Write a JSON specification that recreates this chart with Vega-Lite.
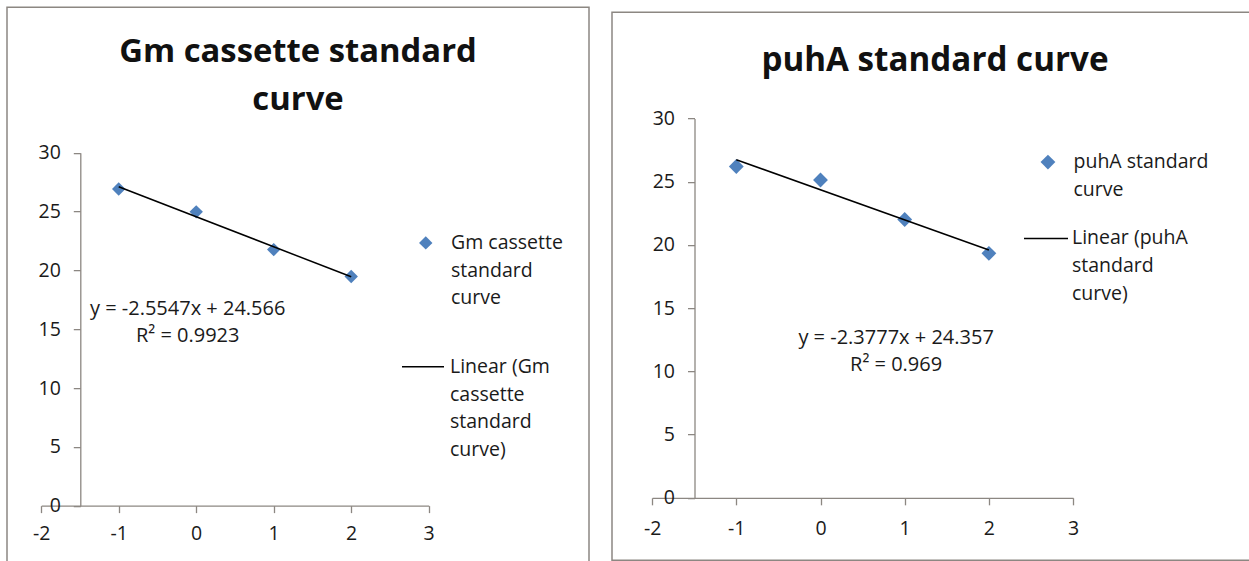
{
  "$schema": "https://vega.github.io/schema/vega-lite/v6.json",
  "padding": {"left": 6, "top": 6, "right": 0, "bottom": 0},
  "background": "white",
  "spacing": 21,
  "center": true,
  "datasets": {
    "gm": [
      {"x": -1, "y": 26.92, "series": "Gm cassette standard curve"},
      {"x": 0, "y": 24.98, "series": "Gm cassette standard curve"},
      {"x": 1, "y": 21.77, "series": "Gm cassette standard curve"},
      {"x": 2, "y": 19.48, "series": "Gm cassette standard curve"}
    ],
    "gmfit": [
      {"x": -1, "y": 27.1207, "series": "Linear (Gm cassette standard curve)"},
      {"x": 2, "y": 19.4566, "series": "Linear (Gm cassette standard curve)"}
    ],
    "puha": [
      {"x": -1, "y": 26.2, "series": "puhA standard curve"},
      {"x": 0, "y": 25.13, "series": "puhA standard curve"},
      {"x": 1, "y": 22.01, "series": "puhA standard curve"},
      {"x": 2, "y": 19.33, "series": "puhA standard curve"}
    ],
    "puhafit": [
      {"x": -1, "y": 26.7347, "series": "Linear (puhA standard curve)"},
      {"x": 2, "y": 19.6016, "series": "Linear (puhA standard curve)"}
    ]
  },
  "hconcat": [
    {
      "width": 582,
      "height": 558,
      "title": {"text": ["Gm cassette standard", "curve"], "anchor": "middle", "frame": "group", "offset": -110, "font": "Open Sans", "fontSize": 32.8, "fontWeight": "bold", "color": "#111111", "lineHeight": 48},
      "layer": [
        {
          "data": {"name": "gm"},
          "mark": {"type": "point", "filled": true, "size": 180, "color": "#4F81BD", "opacity": 1},
          "encoding": {
            "x": {"field": "x", "type": "quantitative", "scale": {"domain": [-2, 3], "range": [34.2, 421.7]}, "axis": {"values": [-2, -1, 0, 1, 2, 3], "offset": -59.5, "labelPadding": 12}},
            "y": {"field": "y", "type": "quantitative", "scale": {"domain": [0, 30], "range": [498.5, 145.7]}, "axis": {"values": [0, 5, 10, 15, 20, 25, 30], "offset": -73.3, "labelPadding": 13}},
            "shape": {"field": "series", "type": "nominal", "scale": {"range": ["diamond"]}, "legend": {"orient": "none", "legendX": 409, "legendY": 226, "symbolSize": 180, "labelOffset": 15.5, "symbolFillColor": "#4F81BD", "symbolStrokeColor": "#4F81BD", "symbolStrokeWidth": 0, "labelExpr": "['Gm cassette', 'standard', 'curve']", "encode": {"labels": {"update": {"lineHeight": {"value": 27.7}}}}}}
          }
        },
        {
          "data": {"name": "gmfit"},
          "mark": {"type": "line", "strokeWidth": 1.5},
          "encoding": {
            "x": {"field": "x", "type": "quantitative"},
            "y": {"field": "y", "type": "quantitative"},
            "color": {"field": "series", "type": "nominal", "scale": {"range": ["#000000"]}, "legend": {"orient": "none", "legendX": 394, "legendY": 337.7, "symbolType": "stroke", "symbolSize": 1764, "symbolStrokeWidth": 1.5, "symbolStrokeColor": "#000000", "labelOffset": 5, "labelExpr": "['Linear (Gm', 'cassette', 'standard', 'curve)']", "encode": {"labels": {"update": {"lineHeight": {"value": 27.7}}}}}}
          }
        },
        {
          "data": {"values": [{}]},
          "mark": {"type": "text", "align": "center", "baseline": "alphabetic", "font": "Open Sans", "fontSize": 20, "color": "#1a1a1a", "lineHeight": 26.5},
          "encoding": {
            "x": {"datum": -0.11},
            "y": {"datum": 16.2},
            "text": {"value": ["y = -2.5547x + 24.566", "R² = 0.9923"]}
          }
        }
      ]
    },
    {
      "width": 646,
      "height": 548,
      "title": {"text": "puhA standard curve", "anchor": "middle", "frame": "group", "offset": -66, "font": "Open Sans", "fontSize": 33.2, "fontWeight": "bold", "color": "#111111"},
      "layer": [
        {
          "data": {"name": "puha"},
          "mark": {"type": "point", "filled": true, "size": 220, "color": "#4F81BD", "opacity": 1},
          "encoding": {
            "x": {"field": "x", "type": "quantitative", "scale": {"domain": [-2, 3], "range": [40.1, 461.1]}, "axis": {"values": [-2, -1, 0, 1, 2, 3], "offset": -62.3, "labelPadding": 15}},
            "y": {"field": "y", "type": "quantitative", "scale": {"domain": [0, 30], "range": [485.7, 106.3]}, "axis": {"values": [0, 5, 10, 15, 20, 25, 30], "offset": -82.5, "labelPadding": 13}},
            "shape": {"field": "series", "type": "nominal", "scale": {"range": ["diamond"]}, "legend": {"orient": "none", "legendX": 426.2, "legendY": 140.2, "symbolSize": 220, "labelOffset": 15.8, "symbolFillColor": "#4F81BD", "symbolStrokeColor": "#4F81BD", "symbolStrokeWidth": 0, "labelExpr": "['puhA standard', 'curve']", "encode": {"labels": {"update": {"lineHeight": {"value": 27}}}}}}
          }
        },
        {
          "data": {"name": "puhafit"},
          "mark": {"type": "line", "strokeWidth": 1.5},
          "encoding": {
            "x": {"field": "x", "type": "quantitative"},
            "y": {"field": "y", "type": "quantitative"},
            "color": {"field": "series", "type": "nominal", "scale": {"range": ["#000000"]}, "legend": {"orient": "none", "legendX": 411, "legendY": 203.3, "symbolType": "stroke", "symbolSize": 1936, "symbolStrokeWidth": 1.5, "symbolStrokeColor": "#000000", "labelOffset": 3, "labelExpr": "['Linear (puhA', 'standard', 'curve)']", "encode": {"labels": {"update": {"lineHeight": {"value": 28}}}}}}
          }
        },
        {
          "data": {"values": [{}]},
          "mark": {"type": "text", "align": "center", "baseline": "alphabetic", "font": "Open Sans", "fontSize": 20, "color": "#1a1a1a", "lineHeight": 27.3},
          "encoding": {
            "x": {"datum": 0.898},
            "y": {"datum": 12.18},
            "text": {"value": ["y = -2.3777x + 24.357", "R² = 0.969"]}
          }
        }
      ]
    }
  ],
  "resolve": {
    "scale": {"x": "independent", "y": "independent", "shape": "independent", "color": "independent"},
    "legend": {"shape": "independent", "color": "independent"}
  },
  "config": {
    "font": "Open Sans",
    "view": {"stroke": "#8c8782", "strokeWidth": 1.5},
    "style": {"guide-label": {"lineHeight": 27.7}},
    "axis": {"labelFont": "Open Sans", "labelFontSize": 19.5, "labelColor": "#1a1a1a", "domainColor": "#8c8782", "tickColor": "#8c8782", "domainWidth": 1.3, "tickWidth": 1.3, "tickSize": 7, "grid": false, "title": null, "labelFlush": false, "labelOverlap": false, "labelExpr": "'' + datum.value"},
    "legend": {"title": null, "padding": 0, "labelFont": "Open Sans", "labelFontSize": 19.5, "labelColor": "#1a1a1a", "labelBaseline": "middle", "labelLimit": 300}
  }
}
